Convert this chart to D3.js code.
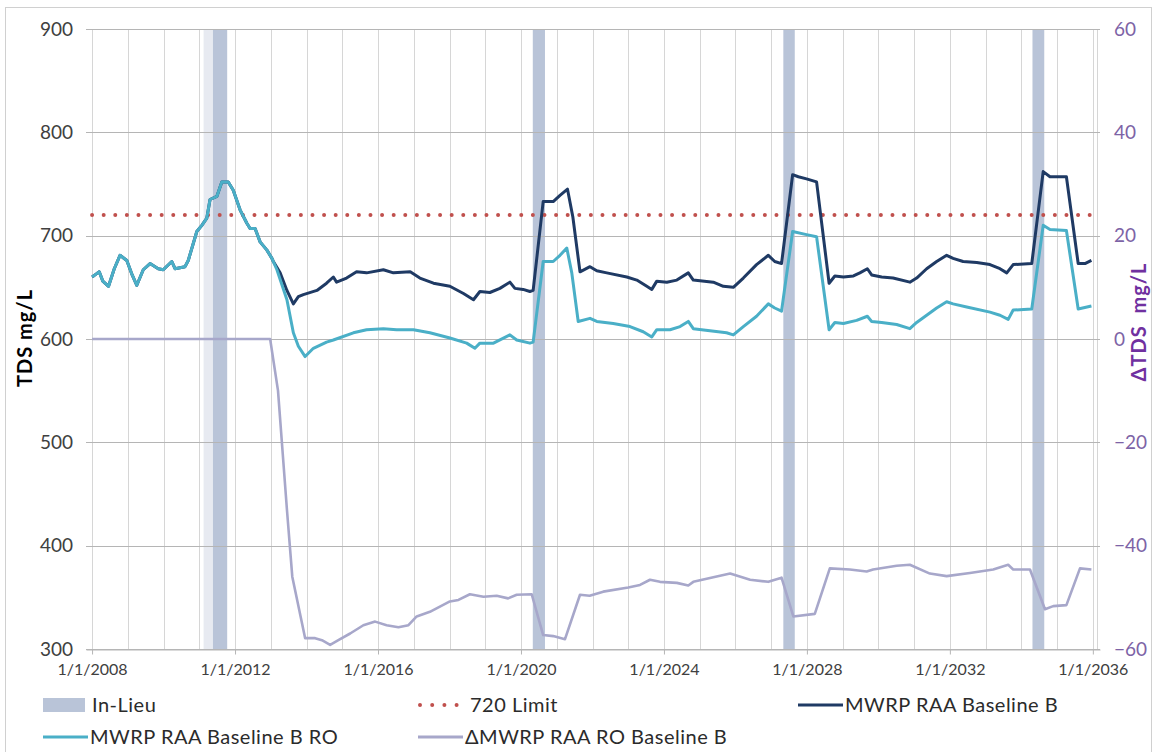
<!DOCTYPE html>
<html>
<head>
<meta charset="utf-8">
<script src="https://cdn.jsdelivr.net/npm/d3@7"></script>
<style>
  html, body { margin: 0; padding: 0; background: #ffffff; }
  svg { display: block; font-family: Lato, "Open Sans", sans-serif; }
</style>
</head>
<body>
<svg id="chart" width="1154" height="752"></svg>
<script>
// ---- data (decimal years, mg/L) ----
const preSplit = [
  [2008.00, 660], [2008.12, 663], [2008.20, 665], [2008.30, 656], [2008.46, 651],
  [2008.62, 668], [2008.78, 681], [2008.97, 676], [2009.12, 662], [2009.25, 652],
  [2009.43, 667], [2009.62, 673], [2009.85, 668], [2009.99, 667], [2010.23, 675],
  [2010.32, 668], [2010.60, 670], [2010.69, 676], [2010.93, 704], [2011.07, 710],
  [2011.21, 717], [2011.30, 735], [2011.49, 738], [2011.63, 752], [2011.81, 752],
  [2011.95, 744], [2012.14, 725], [2012.33, 712], [2012.42, 707], [2012.56, 707],
  [2012.70, 694], [2012.89, 686], [2013.03, 678]
];

const baselineB = preSplit.concat([
  [2013.07, 675], [2013.26, 664], [2013.45, 647], [2013.63, 634], [2013.77, 641],
  [2013.91, 643], [2014.29, 647], [2014.56, 654], [2014.75, 660], [2014.84, 655],
  [2015.12, 659], [2015.40, 665], [2015.68, 664], [2016.15, 667], [2016.43, 664],
  [2016.90, 665], [2017.17, 659], [2017.55, 654], [2018.01, 651], [2018.39, 644],
  [2018.67, 638], [2018.85, 646], [2019.13, 645], [2019.41, 649], [2019.69, 655],
  [2019.83, 649], [2020.06, 648], [2020.25, 646], [2020.34, 647], [2020.62, 733],
  [2020.90, 733], [2021.09, 739], [2021.30, 745], [2021.45, 718], [2021.65, 665],
  [2021.93, 670], [2022.12, 666], [2022.40, 664], [2022.96, 660], [2023.24, 657],
  [2023.52, 651], [2023.66, 648], [2023.80, 656], [2024.08, 655], [2024.36, 657],
  [2024.68, 664], [2024.82, 657], [2025.38, 655], [2025.66, 651], [2025.94, 650],
  [2026.22, 659], [2026.59, 672], [2026.92, 681], [2027.10, 675], [2027.29, 673],
  [2027.60, 759], [2027.76, 757], [2027.99, 755], [2028.27, 752], [2028.62, 654],
  [2028.78, 661], [2029.02, 660], [2029.30, 661], [2029.48, 664], [2029.69, 668],
  [2029.81, 662], [2030.09, 660], [2030.41, 659], [2030.88, 655], [2031.07, 659],
  [2031.35, 668], [2031.63, 675], [2031.91, 681], [2032.09, 678], [2032.37, 675],
  [2032.75, 674], [2033.12, 672], [2033.40, 668], [2033.59, 664], [2033.77, 672],
  [2034.29, 673], [2034.61, 762], [2034.80, 757], [2035.03, 757], [2035.26, 757],
  [2035.59, 673], [2035.78, 673], [2035.96, 676]
]);

const baselineBRO = preSplit.concat([
  [2013.17, 667], [2013.45, 638], [2013.63, 606], [2013.77, 593], [2013.96, 583],
  [2014.19, 591], [2014.56, 597], [2014.75, 599], [2015.31, 606], [2015.68, 609],
  [2016.15, 610], [2016.52, 609], [2016.99, 609], [2017.45, 606], [2018.01, 601],
  [2018.48, 596], [2018.71, 591], [2018.85, 596], [2019.23, 596], [2019.69, 604],
  [2019.88, 599], [2020.25, 596], [2020.34, 597], [2020.62, 675], [2020.90, 675],
  [2021.09, 681], [2021.28, 688], [2021.42, 664], [2021.60, 617], [2021.93, 620],
  [2022.12, 617], [2022.58, 615], [2023.05, 612], [2023.42, 607], [2023.66, 602],
  [2023.80, 609], [2024.17, 609], [2024.45, 612], [2024.68, 617], [2024.82, 610],
  [2025.75, 606], [2025.94, 604], [2026.22, 612], [2026.59, 622], [2026.92, 634],
  [2027.10, 630], [2027.29, 627], [2027.60, 704], [2027.99, 701], [2028.27, 699],
  [2028.62, 609], [2028.78, 616], [2029.02, 615], [2029.39, 618], [2029.69, 622],
  [2029.81, 617], [2030.09, 616], [2030.51, 614], [2030.88, 610], [2031.07, 616],
  [2031.35, 623], [2031.63, 630], [2031.91, 636], [2032.09, 634], [2032.47, 631],
  [2033.12, 626], [2033.40, 623], [2033.63, 619], [2033.77, 628], [2034.29, 629],
  [2034.61, 710], [2034.80, 706], [2035.26, 705], [2035.59, 629], [2035.96, 632]
]);

// change in TDS (mg/L), plotted on the secondary axis
const deltaROBaselineB = [
  [2008.00, 0], [2012.98, 0], [2013.20, -10], [2013.45, -33], [2013.60, -46],
  [2013.96, -57.9], [2014.24, -57.9], [2014.43, -58.3], [2014.66, -59.2], [2014.89, -58.3],
  [2015.22, -57], [2015.59, -55.4], [2015.92, -54.7], [2016.24, -55.4], [2016.57, -55.8],
  [2016.85, -55.4], [2017.08, -53.7], [2017.45, -52.8], [2018.01, -50.8], [2018.25, -50.5],
  [2018.57, -49.4], [2018.95, -49.9], [2019.32, -49.7], [2019.64, -50.2], [2019.88, -49.5],
  [2020.30, -49.4], [2020.62, -57.3], [2020.90, -57.5], [2021.23, -58.1], [2021.65, -49.5],
  [2021.92, -49.7], [2022.30, -48.9], [2023.00, -48.1], [2023.33, -47.6], [2023.61, -46.6],
  [2023.89, -47], [2024.36, -47.2], [2024.68, -47.7], [2024.82, -47], [2025.38, -46.1],
  [2025.85, -45.4], [2026.41, -46.6], [2026.92, -47], [2027.29, -46.2], [2027.62, -53.7],
  [2028.22, -53.2], [2028.64, -44.4], [2029.20, -44.6], [2029.67, -45], [2029.85, -44.6],
  [2030.51, -43.9], [2030.88, -43.7], [2031.44, -45.4], [2031.91, -45.9], [2032.56, -45.3],
  [2033.21, -44.6], [2033.63, -43.7], [2033.77, -44.6], [2034.24, -44.6], [2034.66, -52.3],
  [2034.89, -51.7], [2035.26, -51.5], [2035.64, -44.4], [2035.96, -44.6]
];

const limitValue = 720;
const limitSpan = [2008.0, 2035.96];

// in-lieu delivery periods
const inLieu = [
  [2011.38, 2011.78], [2020.33, 2020.67], [2027.34, 2027.66], [2034.31, 2034.64]
];
const inLieuFaint = [[2011.12, 2011.38]];

const yTicksLeft = [300, 400, 500, 600, 700, 800, 900];
const yTicksRight = [-60, -40, -20, 0, 20, 40, 60];
const xTickYears = [2008, 2012, 2016, 2020, 2024, 2028, 2032, 2036];

const legendItems = [
  { label: "In-Lieu", kind: "rect" },
  { label: "720 Limit", kind: "dots" },
  { label: "MWRP RAA Baseline B", kind: "dark" },
  { label: "MWRP RAA Baseline B RO", kind: "teal" },
  { label: "\u0394MWRP RAA RO Baseline B", kind: "delta" }
];

// ---- styling ----
const colors = {
  dark: "#1f3a64",
  teal: "#4aafc7",
  delta: "#a7a7ca",
  limit: "#c0504d",
  inLieu: "#b9c4d8",
  gridH: "#b5b5b5",
  gridV: "#d6d6d6",
  tick: "#404040",
  purple: "#7d63a6",
  purpleTitle: "#7030a0"
};

// decimal year -> Date
function dy(y) {
  const yr = Math.floor(y);
  const a = new Date(yr, 0, 1), b = new Date(yr + 1, 0, 1);
  return new Date(+a + (y - yr) * (b - a));
}

const svg = d3.select("#chart");
const plot = { left: 86, right: 1100, top: 29, bottom: 649 };

// outer chart frame
svg.append("rect").attr("x", 5.5).attr("y", 7.5).attr("width", 1146).attr("height", 760)
  .attr("fill", "#fff").attr("stroke", "#d0d0d0").attr("stroke-width", 1);

const x = d3.scaleTime().domain([dy(2007.83), dy(2036.2)]).range([plot.left, plot.right]);
const yL = d3.scaleLinear().domain([300, 900]).range([plot.bottom, plot.top]);
const yR = d3.scaleLinear().domain([-60, 60]).range([plot.bottom, plot.top]);

// in-lieu bars
const g = svg.append("g");
g.selectAll("rect.faint").data(inLieuFaint).join("rect").attr("class", "faint")
  .attr("x", d => x(dy(d[0]))).attr("width", d => x(dy(d[1])) - x(dy(d[0])))
  .attr("y", plot.top).attr("height", plot.bottom - plot.top)
  .attr("fill", colors.inLieu).attr("opacity", 0.35);
g.selectAll("rect.lieu").data(inLieu).join("rect").attr("class", "lieu")
  .attr("x", d => x(dy(d[0]))).attr("width", d => x(dy(d[1])) - x(dy(d[0])))
  .attr("y", plot.top).attr("height", plot.bottom - plot.top)
  .attr("fill", colors.inLieu);

// yearly vertical gridlines
const years = d3.range(2008, 2037);
g.selectAll("line.gv").data(years).join("line").attr("class", "gv")
  .attr("x1", d => Math.round(x(dy(d))) + 0.5).attr("x2", d => Math.round(x(dy(d))) + 0.5)
  .attr("y1", plot.top).attr("y2", plot.bottom)
  .attr("stroke", colors.gridV).attr("stroke-width", 1);
g.append("line").attr("x1", plot.right - 2.5).attr("x2", plot.right - 2.5)
  .attr("y1", plot.top).attr("y2", plot.bottom).attr("stroke", colors.gridV);

// horizontal gridlines
g.selectAll("line.gh").data(yTicksLeft).join("line").attr("class", "gh")
  .attr("x1", plot.left).attr("x2", plot.right)
  .attr("y1", d => Math.round(yL(d)) + 0.5).attr("y2", d => Math.round(yL(d)) + 0.5)
  .attr("stroke", colors.gridH).attr("stroke-width", 1);

// x axis
const xAxis = d3.axisBottom(x)
  .tickValues(xTickYears.map(yr => new Date(yr, 0, 1)))
  .tickFormat(d3.timeFormat("%-m/%-d/%Y"))
  .tickSize(5).tickSizeOuter(0);
const xg = svg.append("g").attr("transform", `translate(0,${Math.round(plot.bottom) + 0.5})`).call(xAxis);
xg.select(".domain").attr("stroke", colors.gridH);
xg.selectAll(".tick line").attr("stroke", colors.gridH);
xg.selectAll(".tick text").attr("fill", colors.tick).attr("font-size", 16)
  .attr("font-family", "Lato, sans-serif").attr("dy", "1.1em");

// left axis labels
const yl = d3.axisLeft(yL).tickValues(yTicksLeft).tickSize(0).tickPadding(13);
const ylg = svg.append("g").attr("transform", `translate(${plot.left},0)`).call(yl);
ylg.select(".domain").remove();
ylg.selectAll(".tick text").attr("fill", colors.tick).attr("font-size", 19).attr("font-family", "Lato, sans-serif");

// right axis labels
const yr = d3.axisRight(yR).tickValues(yTicksRight).tickSize(0).tickPadding(14);
const yrg = svg.append("g").attr("transform", `translate(${plot.right},0)`).call(yr);
yrg.select(".domain").remove();
yrg.selectAll(".tick text").attr("fill", colors.purple).attr("font-size", 19).attr("font-family", "Lato, sans-serif");

// axis titles
svg.append("text").attr("transform", "translate(32,338) rotate(-90)")
  .attr("text-anchor", "middle").attr("font-weight", "bold").attr("font-size", 20)
  .attr("letter-spacing", 1).attr("fill", "#000").text("TDS mg/L");
svg.append("text").attr("transform", "translate(1146,322) rotate(-90)")
  .attr("text-anchor", "middle").attr("font-weight", "bold").attr("font-size", 20)
  .attr("letter-spacing", 1).attr("fill", colors.purpleTitle)
  .style("white-space", "pre").text("\u0394TDS  mg/L");

// series
const lineL = d3.line().x(d => x(dy(d[0]))).y(d => yL(d[1]));
const lineR = d3.line().x(d => x(dy(d[0]))).y(d => yR(d[1]));

svg.append("path").datum(deltaROBaselineB).attr("d", lineR)
  .attr("fill", "none").attr("stroke", colors.delta).attr("stroke-width", 2.6).attr("stroke-linejoin", "round");

svg.append("path").datum(limitSpan.map(t => [t, limitValue])).attr("d", lineL)
  .attr("fill", "none").attr("stroke", colors.limit).attr("stroke-width", 4)
  .attr("stroke-linecap", "round").attr("stroke-dasharray", "0 11.6");

svg.append("path").datum(baselineB).attr("d", lineL)
  .attr("fill", "none").attr("stroke", colors.dark).attr("stroke-width", 3).attr("stroke-linejoin", "round");

svg.append("path").datum(baselineBRO).attr("d", lineL)
  .attr("fill", "none").attr("stroke", colors.teal).attr("stroke-width", 3).attr("stroke-linejoin", "round");

// legend
const legendPos = [
  { x: 43, y: 705 }, { x: 418, y: 705 }, { x: 798, y: 705 },
  { x: 43, y: 737 }, { x: 418, y: 737 }
];
const lg = svg.append("g");
legendItems.forEach((item, i) => {
  const p = legendPos[i];
  const it = lg.append("g").attr("transform", `translate(${p.x},${p.y})`);
  if (item.kind === "rect") {
    it.append("rect").attr("x", 0).attr("y", -7).attr("width", 42).attr("height", 14).attr("fill", colors.inLieu);
  } else if (item.kind === "dots") {
    it.append("line").attr("x1", 2).attr("x2", 40).attr("y1", 0).attr("y2", 0)
      .attr("stroke", colors.limit).attr("stroke-width", 4).attr("stroke-linecap", "round")
      .attr("stroke-dasharray", "0 12.2");
  } else {
    it.append("line").attr("x1", 0).attr("x2", 45).attr("y1", 0).attr("y2", 0)
      .attr("stroke", colors[item.kind]).attr("stroke-width", 3);
  }
  it.append("text").attr("x", item.kind === "rect" ? 49 : (item.kind === "dots" ? 52 : 47))
    .attr("y", 0).attr("dy", "0.35em").attr("font-size", 20).attr("letter-spacing", 0.5)
    .attr("fill", "#2b2b2b").text(item.label);
});
</script>
</body>
</html>
